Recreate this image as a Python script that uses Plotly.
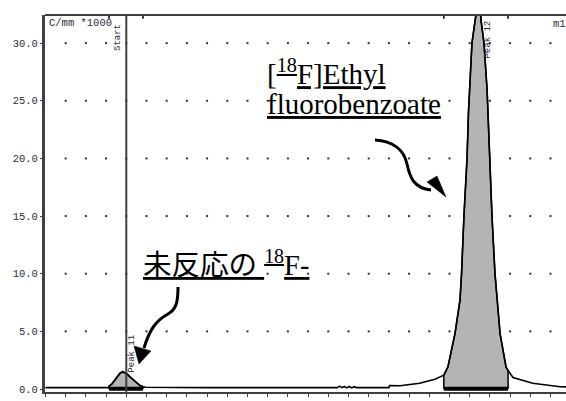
import numpy as np
import plotly.graph_objects as go

# Radio-HPLC chromatogram: retention time (min) vs detector response (C/mm x1000)
time_min = [0.0, 5.0, 7.80, 7.86, 8.23, 8.73, 9.20, 9.55, 10.10, 10.46, 10.83, 11.30, 11.70, 12.07, 12.40,
            20.0, 30.0, 36.1, 36.4, 36.7, 37.0, 37.3, 37.6, 37.9, 38.2, 38.5, 42.5, 42.6, 43.9, 46.3, 48.2,
            49.3, 49.8, 50.68, 51.3, 51.49, 51.79, 52.17, 52.35, 52.6, 52.78, 53.28, 53.6, 53.9, 54.27,
            54.65, 54.95, 55.26, 55.63, 55.88, 56.26, 57.0, 57.25, 57.86, 60.3, 63.7, 64.5]
response = [0.12, 0.12, 0.12, 0.25, 0.45, 0.90, 1.35, 1.50, 1.30, 1.05, 0.80, 0.50, 0.30, 0.20, 0.15,
            0.12, 0.12, 0.12, 0.25, 0.12, 0.22, 0.10, 0.22, 0.10, 0.20, 0.12, 0.12, 0.30, 0.28, 0.50, 0.85,
            1.20, 1.90, 4.8, 7.7, 10.0, 15.0, 20.0, 24.0, 27.0, 30.0, 32.5, 36.0, 32.0, 30.0,
            26.0, 20.0, 15.0, 10.0, 7.7, 4.8, 1.9, 1.6, 1.0, 0.5, 0.2, 0.18]

# Integration windows of the two detected peaks
peak_names = ["Peak 11", "Peak 12"]
peak_start = [7.86, 49.3]
peak_end = [12.07, 57.25]
start_time = 10.0

y_ticks = [0, 5, 10, 15, 20, 25, 30]
x_ticks = [0, 10, 20, 30, 40, 50, 60]

W, H = 566, 401
ML, MR, MT, MB = 45, 0, 15, 9
AX = "#404040"
MONO = "'Liberation Mono', 'DejaVu Sans Mono', monospace"
SERIF = "'Liberation Serif', 'Times New Roman', 'DejaVu Serif', serif"
SERIF_JA = "'Liberation Serif', 'Times New Roman', 'Noto Sans CJK JP', serif"


def pp(px, py):
    """Pixel position on the page -> paper coordinates."""
    return (px - ML) / (W - ML - MR), (H - MB - py) / (H - MT - MB)


def path(cmds):
    out = []
    for c in cmds:
        if isinstance(c, str):
            out.append(c)
        else:
            x, y = pp(*c)
            out.append(f"{x:.5f},{y:.5f}")
    return " ".join(out)


t = np.array(time_min)
v = np.array(response)

fig = go.Figure()

# dotted grid: one dot per minor x step and major y step
gx = np.arange(2.5, 64.0, 2.5)
gy = np.array(y_ticks[1:], dtype=float)
GX, GY = np.meshgrid(gx, gy)
fig.add_trace(go.Scatter(x=GX.ravel(), y=GY.ravel(), mode="markers",
                         marker=dict(symbol="square", size=2, color="#333333"),
                         hoverinfo="skip"))

# shaded integrated areas
for a, b in zip(peak_start, peak_end):
    sel = (t >= a) & (t <= b)
    xs = [a] + list(t[sel]) + [b]
    ys = [0] + list(v[sel]) + [0]
    fig.add_trace(go.Scatter(x=xs, y=ys, mode="lines", fill="toself",
                             fillcolor="#b4b4b4", line=dict(color="black", width=1.5),
                             hoverinfo="skip"))
    fig.add_shape(type="line", x0=a, x1=b, y0=0.02, y1=0.02, xref="x", yref="y",
                  line=dict(color="black", width=4))
    for edge in (a, b):
        fig.add_shape(type="line", x0=edge, x1=edge, y0=1.0, y1=0.99, xref="x", yref="paper",
                      line=dict(color="black", width=1.5))

# chromatogram line
fig.add_trace(go.Scatter(x=t, y=v, mode="lines", line=dict(color="black", width=1.6),
                         hoverinfo="skip"))

# injection start marker and top frame line
fig.add_shape(type="line", x0=start_time, x1=start_time, y0=0, y1=1, xref="x", yref="paper",
              line=dict(color=AX, width=2))
fig.add_shape(type="line", x0=0, x1=1, y0=1, y1=1, xref="paper", yref="paper",
              line=dict(color=AX, width=2))

# curved pointer arrows
fig.add_shape(type="path", xref="paper", yref="paper", line=dict(color="black", width=3),
              path=path(["M", (178, 287), "C", (178, 300), (177, 309), (168, 314),
                         "C", (157, 320), (150, 328), (144, 348)]))
fig.add_shape(type="path", xref="paper", yref="paper", line=dict(color="black", width=0.5),
              fillcolor="black",
              path=path(["M", (134, 346), "L", (151, 351), "L", (139, 364), "Z"]))
fig.add_shape(type="path", xref="paper", yref="paper", line=dict(color="black", width=3),
              path=path(["M", (375, 140), "C", (393, 141), (404, 150), (407, 164),
                         "C", (410, 178), (414, 188), (431, 190)]))
fig.add_shape(type="path", xref="paper", yref="paper", line=dict(color="black", width=0.5),
              fillcolor="black",
              path=path(["M", (427, 182), "L", (437, 176), "L", (446, 197), "Z"]))

ann = []


def label(text, px, py, size, family=SERIF, anchor="left", angle=0, color="black"):
    x, y = pp(px, py)
    ann.append(dict(text=text, x=x, y=y, xref="paper", yref="paper", showarrow=False,
                    xanchor=anchor, yanchor="middle", textangle=angle,
                    font=dict(family=family, size=size, color=color)))


label("<u>[<sup>18</sup>F]Ethyl</u>", 265, 72, 29)
label("<u>fluorobenzoate</u>", 265, 104, 29)
label("<u>未反応の <sup>18</sup>F-</u>", 141, 263, 28.5, family=SERIF_JA)

label("C/mm *1000", 47, 23, 10.5, family=MONO, color="#2b2b3a")
label("m1.0", 551, 24, 10.5, family=MONO, color="#2b2b3a")
label("Start", 118, 38, 9, family=MONO, anchor="center", angle=-90, color="#2b2b3a")
for name, a, b, py in zip(peak_names, peak_start, peak_end, [354, 40]):
    apex = t[(t >= a) & (t <= b)][np.argmax(v[(t >= a) & (t <= b)])]
    px = ML + (apex + 0.06) * (W - ML - MR) / 64.48
    label(name, px + 9, py, 9, family=MONO, anchor="center", angle=-90, color="#2b2b3a")

fig.update_layout(
    width=W, height=H, margin=dict(l=ML, r=MR, t=MT, b=MB, autoexpand=False),
    paper_bgcolor="white", plot_bgcolor="white", showlegend=False,
    annotations=ann,
    xaxis=dict(range=[-0.06, 64.42], tickvals=x_ticks, ticks="outside", ticklen=3,
               tickcolor=AX, showline=True, linecolor=AX, linewidth=2, showgrid=False,
               zeroline=False, automargin=False,
               minor=dict(dtick=2.5, tick0=0, ticks="outside", ticklen=3,
                          tickcolor=AX, showgrid=False),
               tickfont=dict(family=MONO, size=10.5, color="#2b2b3a")),
    yaxis=dict(range=[-0.26, 32.44], tickvals=y_ticks, tickformat=".1f", ticks="outside",
               ticklen=2, tickcolor=AX, showline=True, linecolor=AX, linewidth=3,
               showgrid=False, zeroline=False, automargin=False,
               tickfont=dict(family=MONO, size=10.5, color="#2b2b3a")),
)

fig.write_html("out.html")
